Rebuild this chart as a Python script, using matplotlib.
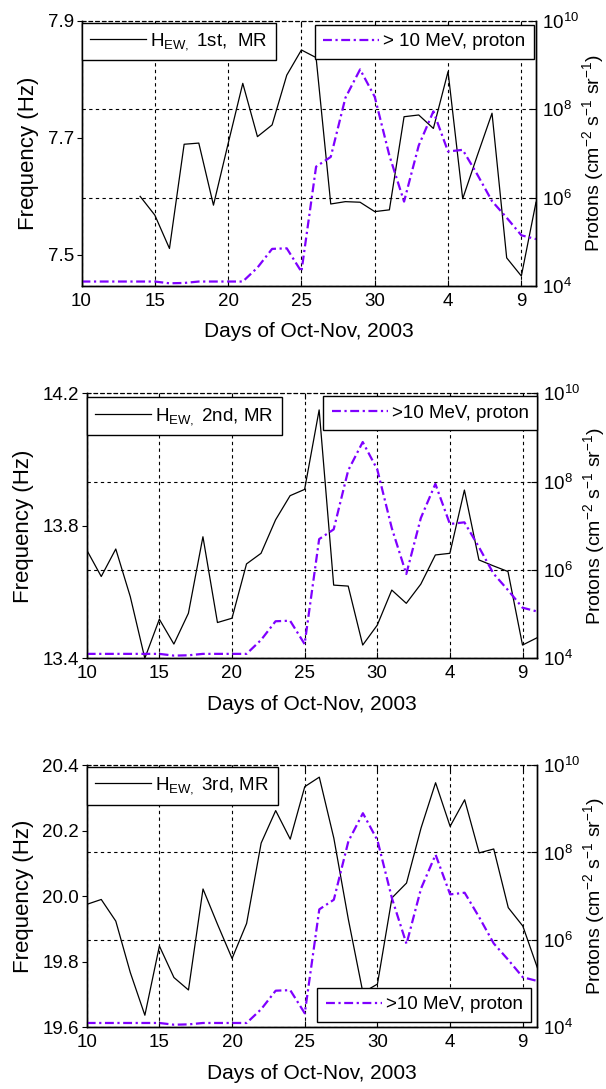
import matplotlib
matplotlib.use("Agg")
import matplotlib.pyplot as plt
from matplotlib.lines import Line2D

plt.rcParams['font.family'] = ['Liberation Sans', 'DejaVu Sans']
plt.rcParams['mathtext.fontset'] = 'custom'
plt.rcParams['mathtext.rm'] = 'Liberation Sans'
plt.rcParams['mathtext.it'] = 'Liberation Sans:italic'
plt.rcParams['mathtext.default'] = 'regular'

# day number counted from 1 Oct 2003 (32 = 1 Nov)
days = list(range(10, 42))
xtick_pos = [10, 15, 20, 25, 30, 35, 40]
xtick_lab = ['10', '15', '20', '25', '30', '4', '9']

# >10 MeV proton flux (cm^-2 s^-1 sr^-1)
proton = [1.26e4, 1.26e4, 1.26e4, 1.26e4, 1.26e4, 1.26e4, 1.15e4, 1.17e4,
          1.26e4, 1.26e4, 1.26e4, 1.26e4, 2.6e4, 6.9e4, 7.1e4, 2.1e4,
          5.0e6, 8.3e6, 1.8e8, 7.9e8, 1.9e8, 8.9e6, 8.1e5, 1.5e7,
          8.9e7, 1.1e7, 1.2e7, 3.3e6, 8.3e5, 3.5e5, 1.4e5, 1.15e5]

# first mode starts on 14 Oct
freq_1st = [7.600, 7.568, 7.511, 7.689, 7.691, 7.585, 7.690, 7.793,
            7.702, 7.722, 7.807, 7.850, 7.837, 7.587, 7.591, 7.590,
            7.574, 7.577, 7.736, 7.739, 7.716, 7.813, 7.596, 7.670,
            7.742, 7.495, 7.464, 7.590]
freq_2nd = [13.727, 13.647, 13.730, 13.586, 13.400, 13.518, 13.443, 13.536,
            13.767, 13.508, 13.521, 13.685, 13.717, 13.818, 13.891, 13.910,
            14.150, 13.621, 13.618, 13.440, 13.500, 13.606, 13.566, 13.624,
            13.712, 13.717, 13.908, 13.697, 13.679, 13.662, 13.440, 13.462]
freq_3rd = [19.975, 19.990, 19.924, 19.767, 19.637, 19.848, 19.752, 19.714,
            20.022, 19.914, 19.810, 19.917, 20.162, 20.261, 20.174, 20.334,
            20.363, 20.177, 19.929, 19.706, 19.732, 19.995, 20.040, 20.208,
            20.346, 20.213, 20.294, 20.132, 20.144, 19.965, 19.909, 19.782]

panels = [
    dict(rect=[0.1345, 0.7374, 0.750, 0.2436], x=days[4:], y=freq_1st,
         ylim=(7.447, 7.9), yticks=[7.5, 7.7, 7.9],
         name=r'H$_{EW,}$ 1st,  MR', pname='> 10 MeV, proton',
         leg1=(0.0, 0.9925), leg2=('upper right', (0.995, 0.985))),
    dict(rect=[0.1431, 0.3955, 0.7431, 0.2433], x=days, y=freq_2nd,
         ylim=(13.4, 14.2), yticks=[13.4, 13.8, 14.2],
         name=r'H$_{EW,}$ 2nd, MR', pname='>10 MeV, proton',
         leg1=(0.0, 0.985), leg2=('upper right', (1.0, 0.99))),
    dict(rect=[0.1431, 0.0566, 0.7436, 0.2409], x=days, y=freq_3rd,
         ylim=(19.6, 20.4), yticks=[19.6, 19.8, 20.0, 20.2, 20.4],
         name=r'H$_{EW,}$ 3rd, MR', pname='>10 MeV, proton',
         leg1=(0.0, 0.9935), leg2=('lower right', (0.986, 0.021))),
]

purple = '#7f00ff'
grid_style = dict(color='black', linestyle=(0, (3, 3)), linewidth=0.8)

fig = plt.figure(figsize=(6.06, 10.89), dpi=100)

for p in panels:
    ax = fig.add_axes(p['rect'])
    ax2 = ax.twinx()

    ax.plot(p['x'], p['y'], color='black', lw=0.9)
    ax2.plot(days, proton, color=purple, lw=1.6, linestyle=(0, (4, 1.6, 1, 1.6)))

    ax.set_xlim(10, 41)
    ax.set_ylim(*p['ylim'])
    ax.set_yticks(p['yticks'])
    ax.set_yticklabels(['%.1f' % v for v in p['yticks']])
    ax.set_xticks(xtick_pos)
    ax.set_xticklabels(xtick_lab)
    ax.xaxis.grid(True, **grid_style)
    ax.set_axisbelow(True)

    ax2.set_yscale('log')
    ax2.set_ylim(1e4, 1e10)
    ax2.set_yticks([1e4, 1e6, 1e8, 1e10])
    ax2.minorticks_off()
    ax2.yaxis.grid(True, **grid_style)
    ax2.set_axisbelow(True)

    for a in (ax, ax2):
        a.spines['top'].set_linestyle((0, (3, 3)))
        a.spines['top'].set_linewidth(0.8)
        for s in ('left', 'right', 'bottom'):
            a.spines[s].set_linewidth(1.0)

    ax.tick_params(axis='y', direction='out', length=3.5, pad=2, labelsize=13.5)
    ax.tick_params(axis='x', direction='in', length=4, pad=5, labelsize=13.5, top=True)
    ax2.tick_params(axis='y', direction='in', length=4, pad=4, labelsize=13.5)

    ax.set_ylabel('Frequency (Hz)', fontsize=16, labelpad=6)
    ax.set_xlabel('Days of Oct-Nov, 2003', fontsize=15, labelpad=9)
    ax2.set_ylabel('Protons (cm$^{-2}$ s$^{-1}$ sr$^{-1}$)', fontsize=14, labelpad=1)

    h1 = Line2D([], [], color='black', lw=0.9)
    h2 = Line2D([], [], color=purple, lw=1.6, linestyle=(0, (4, 1.6, 1, 1.6)))
    leg_kw = dict(fontsize=13.5, fancybox=False, framealpha=1, edgecolor='black',
                  borderaxespad=0, handlelength=3.0, handletextpad=0.2,
                  borderpad=0.45)
    lg1 = ax2.legend([h1], [p['name']], loc='upper left',
                     bbox_to_anchor=p['leg1'], **leg_kw)
    lg1.get_frame().set_linewidth(1.0)
    ax2.add_artist(lg1)
    lg2 = ax2.legend([h2], [p['pname']], loc=p['leg2'][0],
                     bbox_to_anchor=p['leg2'][1], **leg_kw)
    lg2.get_frame().set_linewidth(1.0)

fig.savefig('out.png', dpi=100)
